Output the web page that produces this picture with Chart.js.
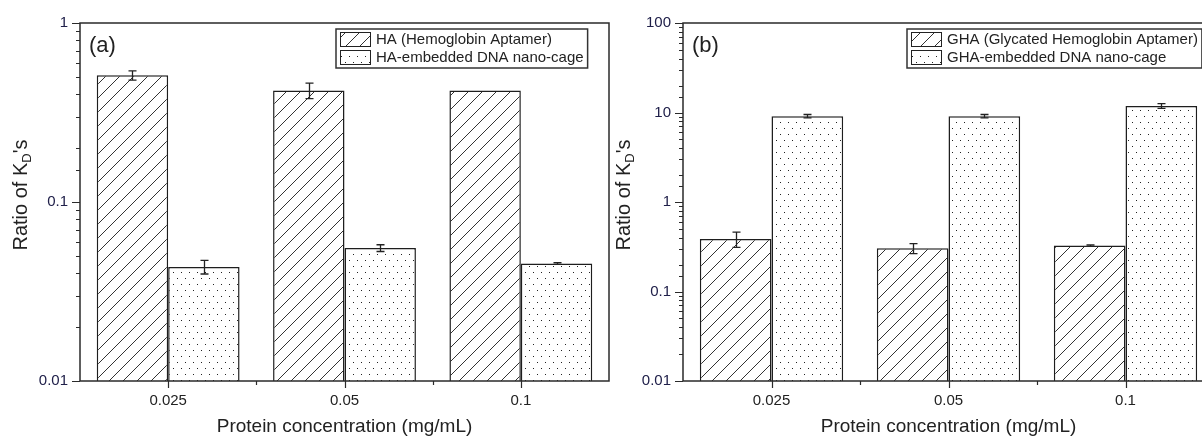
<!DOCTYPE html>
<html>
<head>
<meta charset="utf-8">
<script src="https://cdn.jsdelivr.net/npm/chart.js@4"></script>
<style>
html, body { margin: 0; padding: 0; background: #fff; overflow: hidden; }
#wrap { position: relative; width: 1202px; height: 438px; overflow: hidden; }
.panel { position: absolute; top: 0; }
#panelA { left: 0; }
#panelB { left: 603px; }
</style>
</head>
<body>
<div id="wrap">
  <div class="panel" id="panelA"><canvas id="chartA" width="615" height="438"></canvas></div>
  <div class="panel" id="panelB"><canvas id="chartB" width="615" height="438"></canvas></div>
</div>
<script>
// data
const categories = ['0.025', '0.05', '0.1'];

const haLabel = 'HA (Hemoglobin Aptamer)';
const haValues = [0.51, 0.42, 0.42];
const haErrors = [0.03, 0.042, 0];
const haCageLabel = 'HA-embedded DNA nano-cage';
const haCageValues = [0.0434, 0.0553, 0.0453];
const haCageErrors = [0.0038, 0.0024, 0.0005];

const ghaLabel = 'GHA (Glycated Hemoglobin Aptamer)';
const ghaValues = [0.386, 0.304, 0.326];
const ghaErrors = [0.075, 0.039, 0.006];
const ghaCageLabel = 'GHA-embedded DNA nano-cage';
const ghaCageValues = [9.1, 9.1, 11.85];
const ghaCageErrors = [0.4, 0.4, 0.72];

const yTicksA = [0.01, 0.1, 1];
const yTicksB = [0.01, 0.1, 1, 10, 100];

const FONT = "'Liberation Sans', Arial, sans-serif";
const INK = '#222';

function hatchPattern() {
    const s = 14;
    const c = document.createElement('canvas');
    c.width = s; c.height = s;
    const g = c.getContext('2d');
    g.fillStyle = '#fff';
    g.fillRect(0, 0, s, s);
    g.strokeStyle = '#333';
    g.lineWidth = 1;
    g.beginPath();
    g.moveTo(0, s); g.lineTo(s, 0);
    g.moveTo(-2, 2); g.lineTo(2, -2);
    g.moveTo(s - 2, s + 2); g.lineTo(s + 2, s - 2);
    g.stroke();
    return g.createPattern(c, 'repeat');
}

function dotPattern() {
    const c = document.createElement('canvas');
    c.width = 8; c.height = 12;
    const g = c.getContext('2d');
    g.fillStyle = '#fff';
    g.fillRect(0, 0, 8, 12);
    g.fillStyle = '#222';
    g.fillRect(1, 2, 1, 1);
    g.fillRect(5, 8, 1, 1);
    return g.createPattern(c, 'repeat');
}

function isDecade(v) {
    const l = Math.log10(v);
    return Math.abs(l - Math.round(l)) < 1e-6;
}

const errorBars = {
    id: 'errorBars',
    afterDatasetsDraw(chart) {
        const ctx = chart.ctx;
        const y = chart.scales.y;
        ctx.save();
        ctx.strokeStyle = INK;
        ctx.lineWidth = 1.3;
        chart.data.datasets.forEach((ds, i) => {
            const meta = chart.getDatasetMeta(i);
            meta.data.forEach((bar, j) => {
                const e = ds.errors[j];
                if (!e) return;
                const v = ds.data[j];
                const x = Math.round(bar.x) + 0.5;
                const top = y.getPixelForValue(v + e);
                const bot = y.getPixelForValue(v - e);
                ctx.beginPath();
                ctx.moveTo(x, top); ctx.lineTo(x, bot);
                ctx.moveTo(x - 4, top); ctx.lineTo(x + 4, top);
                ctx.moveTo(x - 4, bot); ctx.lineTo(x + 4, bot);
                ctx.stroke();
            });
        });
        ctx.restore();
    }
};

const panelDecor = {
    id: 'panelDecor',
    afterDraw(chart, args, opts) {
        const ctx = chart.ctx;
        const a = chart.chartArea;
        const xs = chart.scales.x, ys = chart.scales.y;
        ctx.save();

        // box round the plot
        ctx.strokeStyle = '#2a2a2a';
        ctx.lineWidth = 1.5;
        ctx.strokeRect(a.left, a.top, a.right - a.left, a.bottom - a.top);

        // y tick marks, long at decades
        ctx.lineWidth = 1.2;
        ctx.beginPath();
        ys.ticks.forEach(t => {
            const py = Math.round(ys.getPixelForValue(t.value)) + 0.5;
            const len = isDecade(t.value) ? 8 : 4;
            ctx.moveTo(a.left - len, py); ctx.lineTo(a.left, py);
        });
        // x tick marks: centres and category edges
        const n = chart.data.labels.length;
        for (let i = 0; i < n; i++) {
            const px = Math.round(xs.getPixelForValue(i)) + 0.5;
            ctx.moveTo(px, a.bottom); ctx.lineTo(px, a.bottom + 7);
            if (i < n - 1) {
                const mx = Math.round((xs.getPixelForValue(i) + xs.getPixelForValue(i + 1)) / 2) + 0.5;
                ctx.moveTo(mx, a.bottom); ctx.lineTo(mx, a.bottom + 4);
            }
        }
        ctx.stroke();

        // y title with subscript D
        const main = 'Ratio of K', sub = 'D', tail = "'s";
        ctx.fillStyle = INK;
        ctx.textBaseline = 'alphabetic';
        ctx.font = '20px ' + FONT;
        const w1 = ctx.measureText(main).width;
        const w3 = ctx.measureText(tail).width;
        ctx.font = '13px ' + FONT;
        const w2 = ctx.measureText(sub).width;
        const total = w1 + w2 + w3;
        ctx.save();
        ctx.translate(a.left - 60, 195);
        ctx.rotate(-Math.PI / 2);
        let tx = -total / 2;
        ctx.font = '20px ' + FONT;
        ctx.fillText(main, tx, 7);
        tx += w1;
        ctx.font = '13px ' + FONT;
        ctx.fillText(sub, tx, 11);
        tx += w2;
        ctx.font = '20px ' + FONT;
        ctx.fillText(tail, tx, 7);
        ctx.restore();

        // panel letter
        ctx.font = '22px ' + FONT;
        ctx.textAlign = 'left';
        ctx.fillText(opts.letter, a.left + 9, 52);

        // legend in a frame
        ctx.font = '15px ' + FONT;
        ctx.textBaseline = 'middle';
        const labels = chart.data.datasets.map(d => d.label);
        const tw = Math.max(...labels.map(l => ctx.measureText(l).width));
        const bx = a.left + opts.legendLeft, by = 29;
        const bw = 4 + 31 + 5 + tw + 4, bh = 39;
        ctx.fillStyle = '#fff';
        ctx.fillRect(bx, by, bw, bh);
        ctx.strokeStyle = '#333';
        ctx.lineWidth = 1.5;
        ctx.strokeRect(bx, by, bw, bh);
        chart.data.datasets.forEach((d, i) => {
            const sy = by + 3 + i * 18;
            ctx.fillStyle = d.backgroundColor;
            ctx.fillRect(bx + 4, sy, 31, 15);
            ctx.lineWidth = 1;
            ctx.strokeStyle = '#222';
            ctx.strokeRect(bx + 4.5, sy + 0.5, 30, 14);
            ctx.fillStyle = INK;
            ctx.fillText(d.label, bx + 40, sy + 8);
        });
        ctx.restore();
    }
};

function makeChart(id, sets, yMin, yMax, yTicks, letter, legendLeft, padRight) {
    return new Chart(document.getElementById(id), {
        type: 'bar',
        data: {
            labels: categories,
            datasets: sets.map((s, i) => ({
                label: s.label,
                data: s.values,
                errors: s.errors,
                backgroundColor: i === 0 ? hatchPattern() : dotPattern(),
                borderColor: '#1e1e1e',
                borderWidth: 1.5,
                categoryPercentage: 0.81,
                barPercentage: 1.0
            }))
        },
        options: {
            responsive: false,
            animation: false,
            layout: { padding: { left: 0, top: 23, right: padRight, bottom: 0 } },
            plugins: {
                legend: { display: false },
                tooltip: { enabled: false },
                panelDecor: { letter: letter, legendLeft: legendLeft }
            },
            scales: {
                x: {
                    grid: { display: true, drawOnChartArea: false, drawTicks: true, tickLength: 8, tickColor: 'rgba(0,0,0,0)' },
                    border: { display: false },
                    ticks: { color: INK, font: { family: FONT, size: 15 }, padding: 3, maxRotation: 0 },
                    title: {
                        display: true,
                        text: 'Protein concentration (mg/mL)',
                        color: INK,
                        font: { family: FONT, size: 19 },
                        padding: { top: 0, bottom: 0 }
                    },
                    afterFit: s => { s.height = 57; }
                },
                y: {
                    type: 'logarithmic',
                    min: yMin,
                    max: yMax,
                    grid: { display: true, drawOnChartArea: false, drawTicks: true, tickLength: 8, tickColor: 'rgba(0,0,0,0)' },
                    border: { display: false },
                    ticks: {
                        autoSkip: false,
                        color: '#20204a',
                        font: { family: FONT, size: 15 },
                        padding: 4,
                        callback: v => {
                            const t = yTicks.find(k => Math.abs(k - v) < k * 1e-6);
                            return t === undefined ? '' : String(t);
                        }
                    },
                    afterFit: s => { s.width = 80; }
                }
            }
        },
        plugins: [errorBars, panelDecor]
    });
}

makeChart('chartA', [
    { label: haLabel, values: haValues, errors: haErrors },
    { label: haCageLabel, values: haCageValues, errors: haCageErrors }
], 0.01, 1, yTicksA, '(a)', 256, 6);

makeChart('chartB', [
    { label: ghaLabel, values: ghaValues, errors: ghaErrors },
    { label: ghaCageLabel, values: ghaCageValues, errors: ghaCageErrors }
], 0.01, 100, yTicksB, '(b)', 224, 4);
</script>
</body>
</html>
